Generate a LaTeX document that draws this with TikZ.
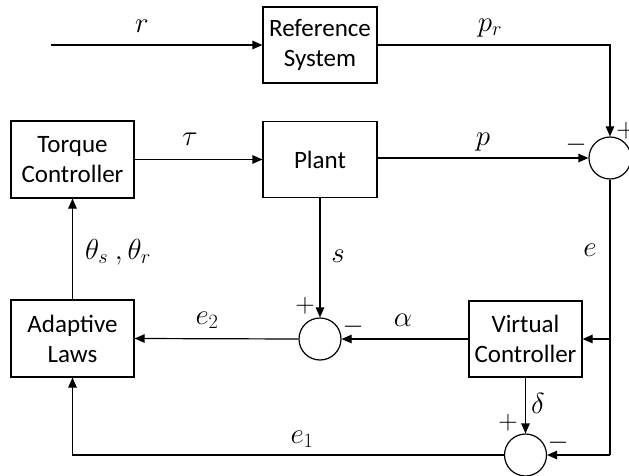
\documentclass[tikz,border=0pt]{standalone}
\usepackage{fix-cm}
\usepackage{fontspec}
\setmainfont{Carlito}
\usetikzlibrary{arrows.meta}
\begin{document}
\begin{tikzpicture}[x=1pt,y=-1pt,
  blk/.style={draw, line width=1.2pt, align=center, inner sep=0pt,
    font=\fontsize{25}{30}\selectfont},
  sumc/.style={draw, circle, line width=1.2pt, minimum size=42pt, inner sep=0pt},
  lbl/.style={font=\fontsize{29}{32}\selectfont, inner sep=0pt},
  sgn/.style={font=\fontsize{27}{30}\selectfont, inner sep=0pt},
  arr/.style={-{Triangle[length=10pt,width=8.5pt]}, line width=1.2pt},
  ln/.style={line width=1.2pt}]
\clip (0,0) rectangle (629,476);
\useasboundingbox (0,0) rectangle (629,476);
% blocks
\node[blk, minimum width=114pt, minimum height=76pt] (ref) at (320,45) {Reference\\System};
\node[blk, minimum width=123pt, minimum height=77pt] (tc) at (72.5,159.5) {Torque\\Controller};
\node[blk, minimum width=114pt, minimum height=76pt] (plant) at (320,159.5) {Plant};
\node[blk, minimum width=123pt, minimum height=77pt] (al) at (72.5,338.5) {Adaptive\\Laws};
\node[blk, minimum width=113pt, minimum height=76pt] (vc) at (525.5,339) {Virtual\\Controller};
% summing junctions
\node[sumc] (s1) at (610,158) {};
\node[sumc] (s2) at (320,339) {};
\node[sumc] (s3) at (525.5,455) {};
\coordinate (rin) at (51,45);
% connectors
\draw[arr] (rin) -- (ref.west);
\draw[arr] (ref.east) -| (s1.north);
\draw[arr] (tc.east) -- (plant.west);
\draw[arr] (plant.east |- s1.west) -- (s1.west);
\draw[arr] (plant.south) -- (s2.north);
\draw[arr] (vc.west) -- (s2.east);
\draw[arr] (s2.west) -- (al.east);
\draw[arr] (al.north) -- (tc.south);
\draw[arr] (vc.south) -- (s3.north);
\coordinate (ecorner) at (s1.south |- s3.east);
\draw[ln] (s1.south) -- (ecorner);
\draw[arr] (ecorner) -- (s3.east);
\draw[arr] (s1.south |- vc.east) -- (vc.east);
\draw[arr] (s3.west) -| (al.south);
% labels
\node[lbl] (lr) at (142,26) {$r$};
\node[lbl] (lpr) at (490,28) {$p_r$};
\node[lbl] (ltau) at (190,139) {$\tau$};
\node[lbl] (lp) at (483,142) {$p$};
\node[lbl] (ls) at (338,256) {$s$};
\node[lbl] (le) at (590,250) {$e$};
\node[lbl] (lth) at (118,252) {$\theta_s\ ,\theta_r$};
\node[lbl] (le2) at (207,320) {$e_2$};
\node[lbl] (lal) at (403,320) {$\alpha$};
\node[lbl] (ldel) at (538,403) {$\delta$};
\node[lbl] (le1) at (302,439) {$e_1$};
% signs
\node[sgn] (p1) at (626,131) {$+$};
\node[sgn] (m1) at (576,145) {$-$};
\node[sgn] (p2) at (305,306) {$+$};
\node[sgn] (m2) at (353,327) {$-$};
\node[sgn] (p3) at (508,423) {$+$};
\node[sgn] (m3) at (558,443) {$-$};
\end{tikzpicture}
\end{document}
